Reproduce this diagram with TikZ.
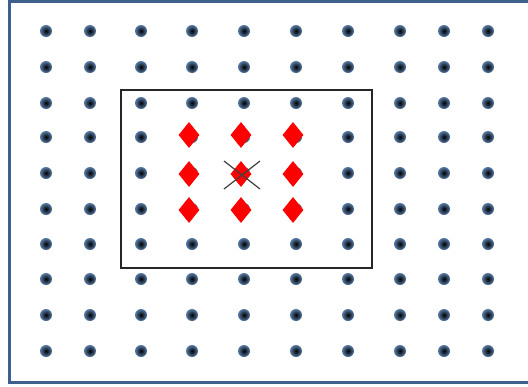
\documentclass[tikz,border=0pt]{standalone}
\usetikzlibrary{shapes.geometric}
\definecolor{frameblue}{RGB}{62,96,140}
\definecolor{dotblue}{RGB}{45,90,145}
\tikzset{
  dotnode/.style={circle, minimum size=12pt, inner sep=0pt, draw=none, inner color=black, outer color=dotblue!80},
  reddia/.style={diamond, aspect=0.8, minimum width=21pt, minimum height=26pt, inner sep=0pt, fill=red, draw=none},
  framebox/.style={draw=frameblue, line width=3pt},
  winbox/.style={draw=black!85, line width=1.3pt},
  crossline/.style={draw=black!75, line width=1.2pt}
}
\begin{document}
\begin{tikzpicture}[x=1pt,y=-1pt]
\useasboundingbox (0,0) rectangle (528,386);
\fill[white] (0,0) rectangle (528,386);
\begin{scope}
\clip (0,0) rectangle (528,386);
\draw[framebox] (9,1) rectangle (540,382);
\end{scope}
\draw[winbox] (121,90) rectangle (372,268);
\foreach \x [count=\i] in {46,90,141,192,244,296,348,400,444,488}{
  \foreach \y [count=\j] in {31,67,103,137,173,209,244,279,315,351}{
    \node[dotnode] (d-\i-\j) at (\x,\y) {};
  }
}
\foreach \x [count=\i] in {189,241,293}{
  \foreach \y [count=\j] in {135,174,210}{
    \node[reddia] (r-\i-\j) at (\x,\y) {};
  }
}
\coordinate (c1) at (224,161);
\coordinate (c2) at (260,189);
\coordinate (c3) at (224,189);
\coordinate (c4) at (260,161);
\draw[crossline] (c1) -- (c2);
\draw[crossline] (c3) -- (c4);
\end{tikzpicture}
\end{document}
